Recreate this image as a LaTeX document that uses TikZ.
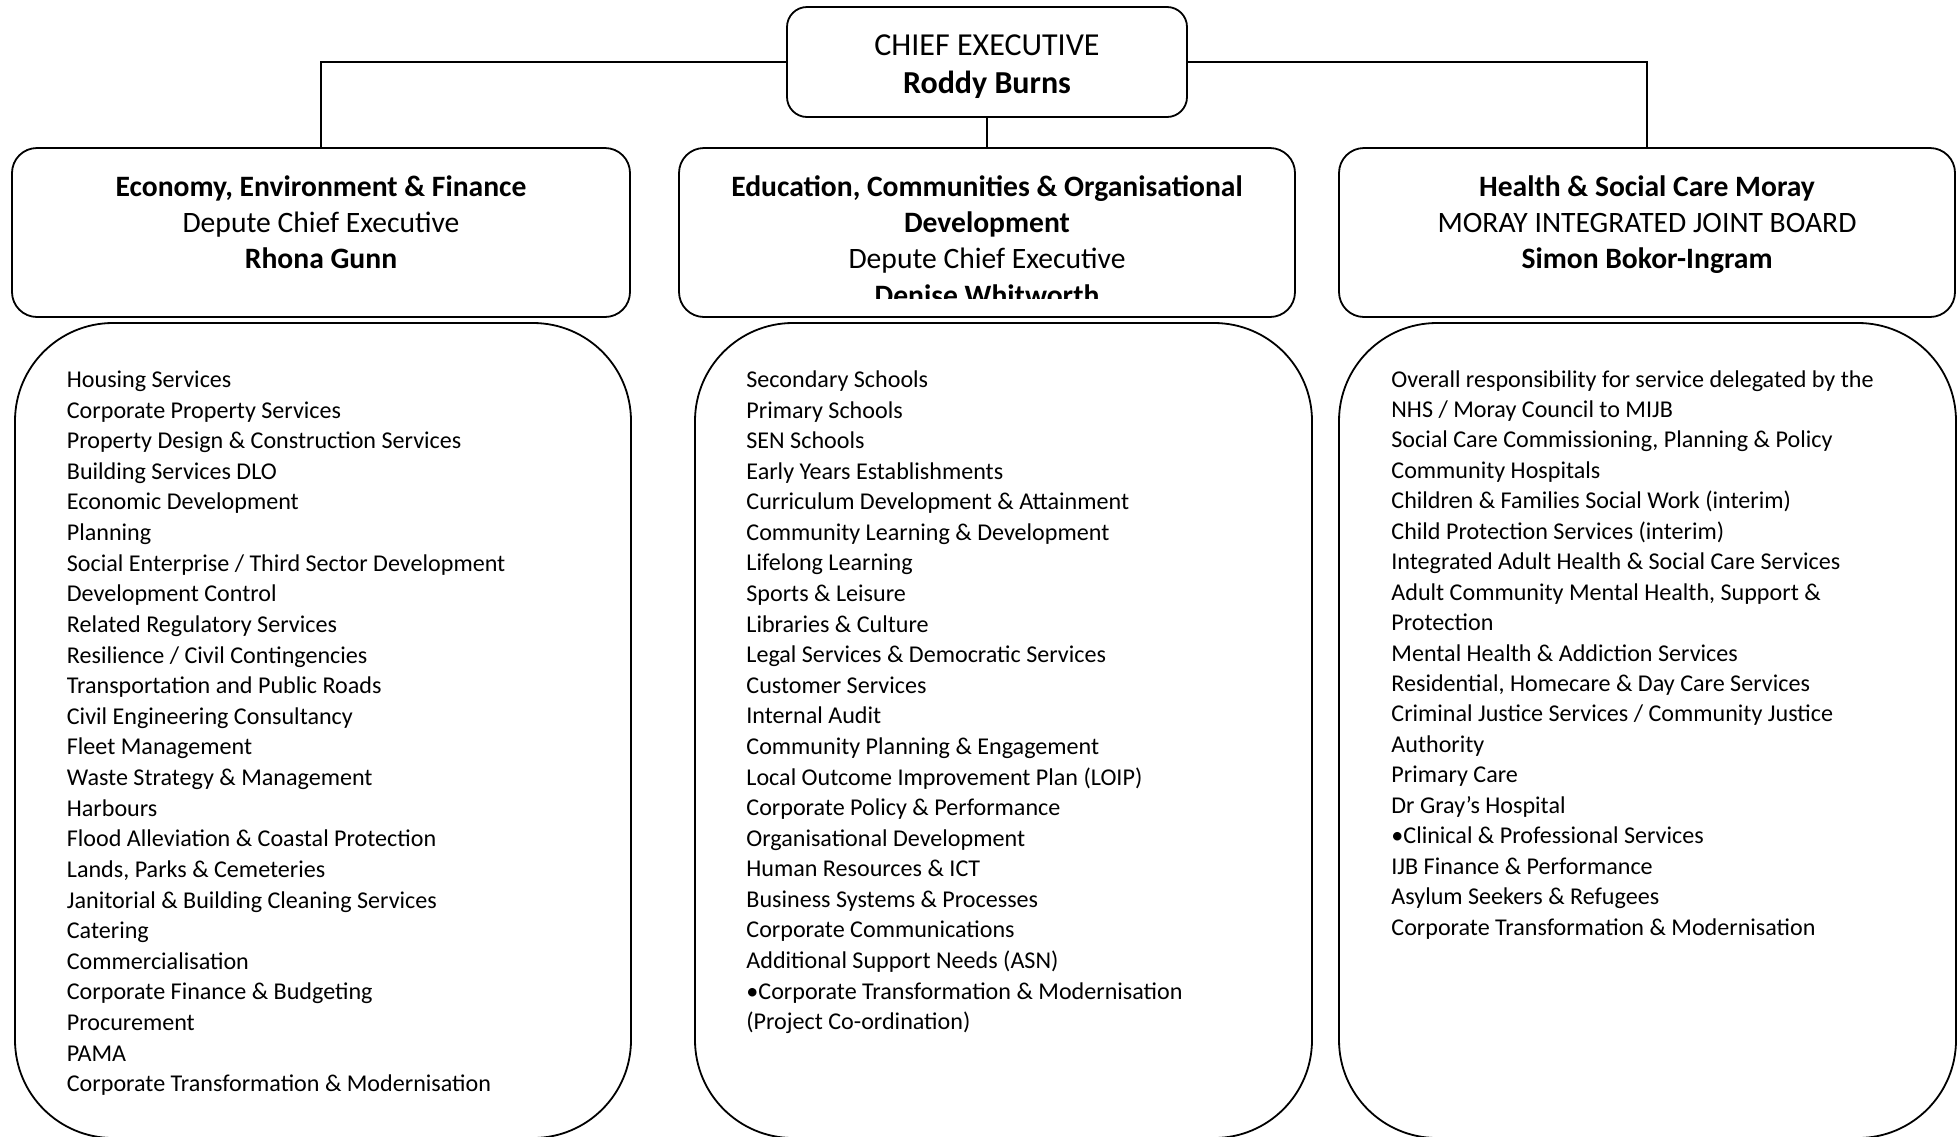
\documentclass[tikz,border=0pt]{standalone}
\usepackage{fontspec}
\setmainfont{Carlito}
\begin{document}
\begin{tikzpicture}[x=0.5pt,y=-0.5pt,
  line width=0.9pt,
  box/.style={draw, inner sep=0pt, outer sep=0pt},
  ceobox/.style={box, minimum width=200pt, minimum height=55pt, rounded corners=10pt},
  headbox/.style={box, minimum width=308pt, minimum height=84.5pt, rounded corners=12.5pt},
  listbox/.style={box, minimum width=308pt, minimum height=407.5pt, rounded corners=49pt},
  head/.style={inner sep=0pt, anchor=base, font=\fontsize{14.8pt}{17pt}\selectfont},
  headb/.style={inner sep=0pt, anchor=base, font=\fontsize{14.8pt}{17pt}\selectfont\bfseries},
  ceot/.style={inner sep=0pt, anchor=base, font=\fontsize{16pt}{18pt}\selectfont},
  ceob/.style={inner sep=0pt, anchor=base, font=\fontsize{16pt}{18pt}\selectfont\bfseries},
  item/.style={inner sep=0pt, anchor=base west, font=\fontsize{12.05pt}{14pt}\selectfont},
]
\fill[white] (0,0) rectangle (1959,1136);
\useasboundingbox (0,0) rectangle (1959,1136);

% chief executive
\node[ceobox] (ceo) at (987,62) {};
\node[ceot] (ceoT) at (987,55) {CHIEF EXECUTIVE};
\node[ceob] (ceoN) at (987,93) {Roddy Burns};

% directorate header boxes
\node[headbox, minimum width=309pt] (h1) at (321,232.5) {};
\node[headbox] (h2) at (987,232.5) {};
\node[headbox] (h3) at (1647,232.5) {};

% connectors
\draw (ceo.west) -| (h1.north);
\draw (ceo.east) -| (h3.north);
\draw (ceo.south) -- (h2.north);

% header texts
\node[headb] (h1a) at (321,196) {Economy, Environment \& Finance};
\node[head]  (h1b) at (321,232) {Depute Chief Executive};
\node[headb] (h1c) at (321,268.5) {Rhona Gunn};

\node[headb] (h2a) at (987,196) {Education, Communities \& Organisational};
\node[headb] (h2b) at (987,232) {Development};
\node[head]  (h2c) at (987,268.5) {Depute Chief Executive};
\begin{scope}
  \clip (680,140) rectangle (1296,298);
  \node[headb] (h2d) at (987,305) {Denise Whitworth};
\end{scope}

\node[headb] (h3a) at (1647,196) {Health \& Social Care Moray};
\node[head]  (h3b) at (1647,232) {MORAY INTEGRATED JOINT BOARD};
\node[headb] (h3c) at (1647,268.5) {Simon Bokor-Ingram};

% list boxes
\node[listbox] (l1) at (323,730.5) {};
\node[listbox, minimum width=308.5pt] (l2) at (1003.5,730.5) {};
\node[listbox, minimum width=308.5pt] (l3) at (1647.5,730.5) {};

% list items
\foreach [count=\i from 0] \t in {
  Housing Services,
  Corporate Property Services,
  Property Design \& Construction Services,
  Building Services DLO,
  Economic Development,
  Planning,
  Social Enterprise / Third Sector Development,
  Development Control,
  Related Regulatory Services,
  Resilience / Civil Contingencies,
  Transportation and Public Roads,
  Civil Engineering Consultancy,
  Fleet Management,
  Waste Strategy \& Management,
  Harbours,
  Flood Alleviation \& Coastal Protection,
  {Lands, Parks \& Cemeteries},
  Janitorial \& Building Cleaning Services,
  Catering,
  Commercialisation,
  Corporate Finance \& Budgeting,
  Procurement,
  PAMA,
  Corporate Transformation \& Modernisation}
  \node[item] (L\i) at (66,{387.5+\i*30.62}) {\t};

\foreach [count=\i from 0] \t in {
  Secondary Schools,
  Primary Schools,
  SEN Schools,
  Early Years Establishments,
  Curriculum Development \& Attainment,
  Community Learning \& Development,
  Lifelong Learning,
  Sports \& Leisure,
  Libraries \& Culture,
  Legal Services \& Democratic Services,
  Customer Services,
  Internal Audit,
  Community Planning \& Engagement,
  Local Outcome Improvement Plan (LOIP),
  Corporate Policy \& Performance,
  Organisational Development,
  Human Resources \& ICT,
  Business Systems \& Processes,
  Corporate Communications,
  Additional Support Needs (ASN),
  •Corporate Transformation \& Modernisation,
  (Project Co-ordination)}
  \node[item] (M\i) at (745.5,{387.5+\i*30.58}) {\t};

\foreach [count=\i from 0] \t in {
  Overall responsibility for service delegated by the,
  NHS / Moray Council to MIJB,
  {Social Care Commissioning, Planning \& Policy},
  Community Hospitals,
  Children \& Families Social Work (interim),
  Child Protection Services (interim),
  Integrated Adult Health \& Social Care Services,
  {Adult Community Mental Health, Support \&},
  Protection,
  Mental Health \& Addiction Services,
  {Residential, Homecare \& Day Care Services},
  Criminal Justice Services / Community Justice,
  Authority,
  Primary Care,
  Dr Gray’s Hospital,
  •Clinical \& Professional Services,
  IJB Finance \& Performance,
  Asylum Seekers \& Refugees,
  Corporate Transformation \& Modernisation}
  \node[item] (R\i) at (1390.5,{387+\i*30.45}) {\t};
\end{tikzpicture}
\end{document}
